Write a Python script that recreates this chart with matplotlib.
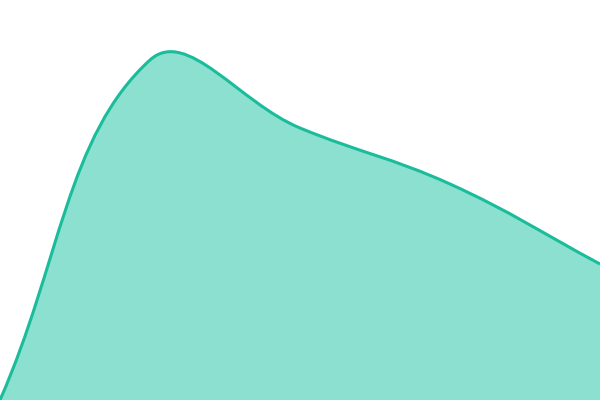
import numpy as np
import matplotlib
matplotlib.use("Agg")
import matplotlib.pyplot as plt
from matplotlib.path import Path
from matplotlib.patches import PathPatch

# data points of the area series
labels = ["A", "B", "C", "D", "E"]
values = [0, 85, 68, 54, 34]

LINE = "#1abc9c"
FILL = "#8be0cf"
TENSION = 0.4


def spline_path(xs, ys, sx, sy, tension=TENSION):
    """cardinal-like bezier through the points (control points worked out in pixel space)"""
    px = np.asarray(xs, float) * sx
    py = np.asarray(ys, float) * sy
    n = len(px)
    cps = []
    for i in range(n):
        p0 = (px[max(i - 1, 0)], py[max(i - 1, 0)])
        p1 = (px[i], py[i])
        p2 = (px[min(i + 1, n - 1)], py[min(i + 1, n - 1)])
        d01 = np.hypot(p1[0] - p0[0], p1[1] - p0[1])
        d12 = np.hypot(p2[0] - p1[0], p2[1] - p1[1])
        tot = d01 + d12
        fa = tension * d01 / tot if tot else 0
        fb = tension * d12 / tot if tot else 0
        dx, dy = p2[0] - p0[0], p2[1] - p0[1]
        cps.append(((p1[0] - fa * dx, p1[1] - fa * dy), (p1[0] + fb * dx, p1[1] + fb * dy)))
    verts = [(px[0], py[0])]
    codes = [Path.MOVETO]
    for i in range(n - 1):
        verts += [cps[i][1], cps[i + 1][0], (px[i + 1], py[i + 1])]
        codes += [Path.CURVE4] * 3
    verts = [(x / sx, y / sy) for x, y in verts]
    return verts, codes


fig = plt.figure(figsize=(6, 4), dpi=100)
ax = fig.add_axes([0, 0, 1, 1])
xs = np.arange(len(values))
ax.set_xlim(0, len(values) - 1)
ax.set_ylim(0, 100)

# pixel scale of one data unit
sx = 600 / (len(values) - 1)
sy = 400 / 100
verts, codes = spline_path(xs, values, sx, sy)

fill_verts = verts + [(xs[-1], 0), (xs[0], 0), verts[0]]
fill_codes = codes + [Path.LINETO, Path.LINETO, Path.CLOSEPOLY]
ax.add_patch(PathPatch(Path(fill_verts, fill_codes), facecolor=FILL, edgecolor="none"))
ax.add_patch(PathPatch(Path(verts, codes), facecolor="none", edgecolor=LINE, lw=2.2))

ax.axis("off")
fig.savefig("out.png", dpi=100)
